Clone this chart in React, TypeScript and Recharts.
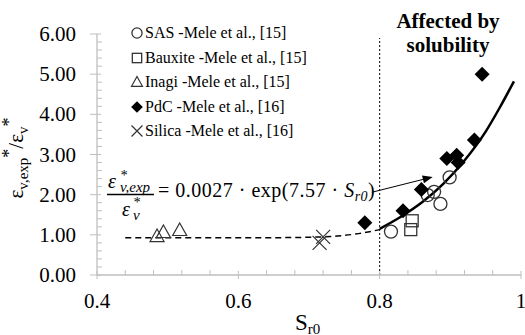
import React from 'react';
import {
  ComposedChart,
  XAxis,
  YAxis,
  Scatter,
  Line,
  ReferenceLine,
  Legend,
  Customized,
} from 'recharts';

const FONT = '"Liberation Serif", "Times New Roman", serif';
const INK = '#000';
const AXIS = '#bfbfbf';

// measured points, [Sr0, eps ratio]
const sasPoints = [
  [0.816, 1.08],
  [0.868, 1.99],
  [0.877, 2.07],
  [0.886, 1.77],
  [0.899, 2.43],
];
const bauxitePoints = [
  [0.846, 1.35],
  [0.844, 1.13],
];
const inagiPoints = [
  [0.485, 0.97],
  [0.494, 1.07],
  [0.517, 1.12],
];
const pdcPoints = [
  [0.779, 1.3],
  [0.833, 1.6],
  [0.859, 2.13],
  [0.895, 2.9],
  [0.909, 2.98],
  [0.911, 2.8],
  [0.934, 3.36],
  [0.945, 5.0],
];
const silicaPoints = [
  [0.715, 0.8],
  [0.72, 0.95],
];

// trend lines
const dashedTrend = [
  [0.44, 0.93],
  [0.55, 0.93],
  [0.65, 0.93],
  [0.7, 0.94],
  [0.74, 0.97],
  [0.77, 1.03],
  [0.8, 1.13],
];
const fitTrend = [
  [0.8, 1.15],
  [0.83, 1.45],
  [0.86, 1.81],
  [0.89, 2.27],
  [0.92, 2.85],
  [0.95, 3.57],
  [0.97, 4.17],
  [0.99, 4.82],
];

const xMajor = [0.4, 0.6, 0.8, 1.0];
const xMajorLabels = ['0.4', '0.6', '0.8', '1'];
const xMinorStep = 0.04;
const yMajor = [0, 1, 2, 3, 4, 5, 6];
const yMinorStep = 0.2;

const legendOrder = [
  'SAS -Mele et al., [15]',
  'Bauxite -Mele et al., [15]',
  'Inagi -Mele et al., [15]',
  'PdC -Mele et al., [16]',
  'Silica -Mele et al., [16]',
];

const toXY = (arr: number[][]) => arr.map(([x, y]) => ({ x, y }));

const round = (v: number) => Math.round(v * 1000) / 1000;

const xTicks: number[] = [];
for (let v = xMajor[0]; v <= xMajor[xMajor.length - 1] + 1e-9; v += xMinorStep) xTicks.push(round(v));
const yTicks: number[] = [];
for (let v = yMajor[0]; v <= yMajor[yMajor.length - 1] + 1e-9; v += yMinorStep) yTicks.push(round(v));

const isMajor = (v: number, list: number[]) => list.some((m) => Math.abs(m - v) < 1e-6);

function XTick({ x, y, payload }: any) {
  const v = payload.value;
  const i = xMajor.findIndex((m) => Math.abs(m - v) < 1e-6);
  if (i < 0) {
    return <line x1={x} x2={x} y1={y} y2={y - 5} stroke={AXIS} strokeWidth={1} />;
  }
  return (
    <g>
      <line x1={x} x2={x} y1={y - 4} y2={y + 4} stroke={AXIS} strokeWidth={1} />
      <text x={x} y={y + 33} textAnchor="middle" fontFamily={FONT} fontSize={21} fill={INK}>
        {xMajorLabels[i]}
      </text>
    </g>
  );
}

function YTick({ x, y, payload }: any) {
  const v = payload.value;
  if (!isMajor(v, yMajor)) {
    return <line x1={x} x2={x + 5} y1={y} y2={y} stroke={AXIS} strokeWidth={1} />;
  }
  return (
    <g>
      <line x1={x - 7} x2={x + 4} y1={y} y2={y} stroke={AXIS} strokeWidth={1} />
      <text x={x - 21} y={y + 7} textAnchor="end" fontFamily={FONT} fontSize={21} fill={INK}>
        {v.toFixed(2)}
      </text>
    </g>
  );
}

const MARK = '#333';

function icon(kind: string, cx: number, cy: number, s = 1) {
  switch (kind) {
    case 'circle':
      return <circle cx={cx} cy={cy} r={6.5 * s} fill="none" stroke={MARK} strokeWidth={1.3} />;
    case 'square':
      return (
        <rect x={cx - 6 * s} y={cy - 6 * s} width={12 * s} height={12 * s} fill="none" stroke={MARK} strokeWidth={1.3} />
      );
    case 'triangle':
      return (
        <path
          d={`M${cx},${cy - 7 * s} L${cx + 7 * s},${cy + 5.5 * s} L${cx - 7 * s},${cy + 5.5 * s} Z`}
          fill="none"
          stroke={MARK}
          strokeWidth={1.2}
        />
      );
    case 'diamond':
      return (
        <path
          d={`M${cx},${cy - 7.5 * s} L${cx + 7.5 * s},${cy} L${cx},${cy + 7.5 * s} L${cx - 7.5 * s},${cy} Z`}
          fill="#000"
        />
      );
    default:
      return (
        <path
          d={`M${cx - 7 * s},${cy - 7 * s} L${cx + 7 * s},${cy + 7 * s} M${cx + 7 * s},${cy - 7 * s} L${cx - 7 * s},${cy + 7 * s}`}
          stroke={MARK}
          strokeWidth={1.2}
        />
      );
  }
}

const shapeOf = (kind: string) => (p: any) => icon(kind, p.cx, p.cy);

function LegendBox({ payload }: any) {
  const items = (payload || [])
    .filter((e: any) => legendOrder.includes(e.value))
    .sort((a: any, b: any) => legendOrder.indexOf(a.value) - legendOrder.indexOf(b.value));
  return (
    <div style={{ fontFamily: FONT, fontSize: 16, color: INK, lineHeight: 1 }}>
      {items.map((e: any) => (
        <div key={e.value} style={{ display: 'flex', alignItems: 'center', height: 24.5, whiteSpace: 'nowrap' }}>
          <svg width={14} height={14} style={{ marginRight: 1, overflow: 'visible' }}>
            {icon(e.type === 'cross' ? 'x' : e.type, 7, 7, 0.78)}
          </svg>
          <span style={{ fontFamily: FONT }}>{e.value}</span>
        </div>
      ))}
    </div>
  );
}

function Annotations() {
  return (
    <g fontFamily={FONT} fill={INK}>
      {/* y axis title */}
      <text transform="translate(23,158) rotate(-90)" textAnchor="middle" fontSize={21}>
        <tspan>ε</tspan>
        <tspan fontSize={15} dy={5}>v,exp</tspan>
        <tspan fontSize={18} dy={-13}>*</tspan>
        <tspan fontSize={21} dy={8}>/ε</tspan>
        <tspan fontSize={15} dy={5}>v</tspan>
        <tspan fontSize={18} dy={-13}>*</tspan>
      </text>
      {/* x axis title */}
      <text x={295} y={330} fontSize={23}>
        S<tspan fontSize={15} dy={4}>r0</tspan>
      </text>
      <text x={448} y={28} textAnchor="middle" fontSize={21} fontWeight="bold">
        Affected by
      </text>
      <text x={448} y={52} textAnchor="middle" fontSize={21} fontWeight="bold">
        solubility
      </text>
      {/* equation */}
      <g fontStyle="italic">
        <text x={108} y={188} fontSize={20}>ε</text>
        <text x={120} y={180} fontSize={14}>*</text>
        <text x={120} y={192} fontSize={15}>v,exp</text>
        <text x={122} y={216} fontSize={20}>ε</text>
        <text x={133} y={207} fontSize={14}>*</text>
        <text x={133} y={220} fontSize={15}>v</text>
      </g>
      <line x1={107} x2={154} y1={194.5} y2={194.5} stroke={INK} strokeWidth={1.5} />
      <text x={158} y={197} fontSize={20} letterSpacing={0.5}>
        = 0.0027 · exp(7.57 · <tspan fontStyle="italic">S</tspan>
        <tspan fontStyle="italic" fontSize={14} dy={4}>r0</tspan>
        <tspan dy={-4}>)</tspan>
      </text>
    </g>
  );
}

function Arrow(p: any) {
  const { x1, y1, x2, y2 } = p;
  const a = Math.atan2(y2 - y1, x2 - x1);
  const len = 10;
  const w = 4;
  const bx = x2 - len * Math.cos(a);
  const by = y2 - len * Math.sin(a);
  const px = -Math.sin(a) * w;
  const py = Math.cos(a) * w;
  return (
    <g>
      <line x1={x1} y1={y1} x2={bx} y2={by} stroke={INK} strokeWidth={1} />
      <path d={`M${x2},${y2} L${bx + px},${by + py} L${bx - px},${by - py} Z`} fill={INK} />
    </g>
  );
}

export default function App() {
  return (
    <div style={{ position: 'absolute', left: 0, top: 0 }}>
      <ComposedChart width={525} height={335} margin={{ top: 34, right: 4, bottom: 59, left: 96 }}>
        <XAxis
          type="number"
          dataKey="x"
          domain={[0.4, 1]}
          ticks={xTicks}
          interval={0}
          height={1}
          tickSize={0}
          tickMargin={0}
          tickLine={false}
          tick={<XTick />}
          axisLine={{ stroke: AXIS, strokeWidth: 1.3 }}
          allowDataOverflow
        />
        <YAxis
          type="number"
          dataKey="y"
          domain={[0, 6]}
          ticks={yTicks}
          interval={0}
          width={1}
          tickSize={0}
          tickMargin={0}
          tickLine={false}
          tick={<YTick />}
          axisLine={{ stroke: AXIS, strokeWidth: 1.3 }}
          allowDataOverflow
        />
        <ReferenceLine
          segment={[
            { x: 0.8, y: 0 },
            { x: 0.8, y: 5.9 },
          ]}
          stroke={INK}
          strokeWidth={1}
          strokeDasharray="2 2"
        />
        <Line
          data={toXY(dashedTrend)}
          dataKey="y"
          type="monotone"
          stroke={INK}
          strokeWidth={1.5}
          strokeDasharray="6 4"
          dot={false}
          activeDot={false}
          legendType="none"
          isAnimationActive={false}
        />
        <Line
          data={toXY(fitTrend)}
          dataKey="y"
          type="monotone"
          stroke={INK}
          strokeWidth={2.5}
          dot={false}
          activeDot={false}
          legendType="none"
          isAnimationActive={false}
        />
        <Scatter name={legendOrder[0]} data={toXY(sasPoints)} dataKey="y" legendType="circle" shape={shapeOf('circle')} isAnimationActive={false} />
        <Scatter name={legendOrder[1]} data={toXY(bauxitePoints)} dataKey="y" legendType="square" shape={shapeOf('square')} isAnimationActive={false} />
        <Scatter name={legendOrder[2]} data={toXY(inagiPoints)} dataKey="y" legendType="triangle" shape={shapeOf('triangle')} isAnimationActive={false} />
        <Scatter name={legendOrder[3]} data={toXY(pdcPoints)} dataKey="y" legendType="diamond" shape={shapeOf('diamond')} isAnimationActive={false} />
        <Scatter name={legendOrder[4]} data={toXY(silicaPoints)} dataKey="y" legendType="cross" shape={shapeOf('x')} isAnimationActive={false} />
        <ReferenceLine
          segment={[
            { x: 0.789, y: 2.06 },
            { x: 0.875, y: 2.44 },
          ]}
          shape={Arrow}
        />
        <Legend
          layout="vertical"
          align="center"
          verticalAlign="middle"
          content={<LegendBox />}
          wrapperStyle={{ left: 130, top: 21, width: 'auto' }}
        />
        <Customized component={<Annotations />} />
      </ComposedChart>
    </div>
  );
}
